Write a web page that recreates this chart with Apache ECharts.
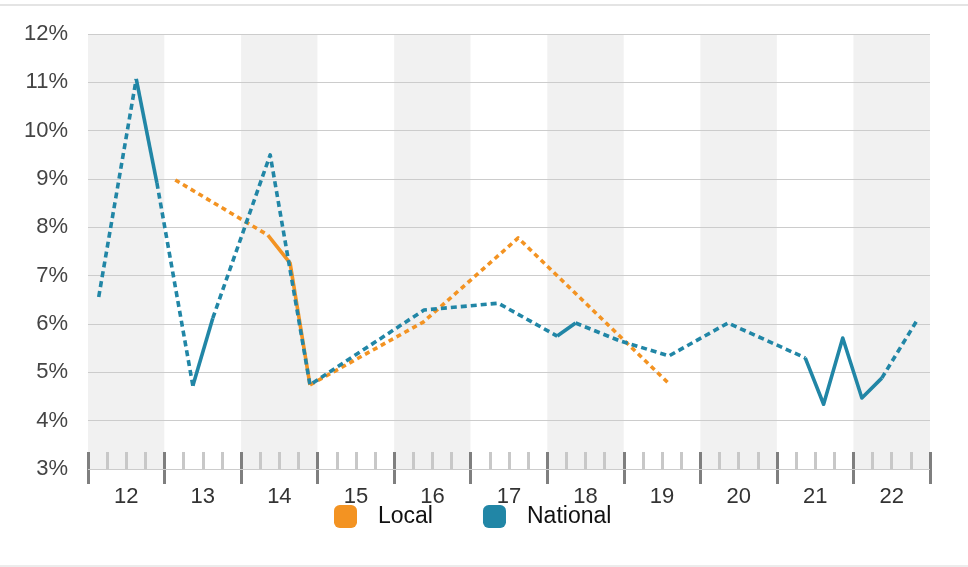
<!DOCTYPE html>
<html>
<head>
<meta charset="utf-8">
<script src="https://cdn.jsdelivr.net/npm/echarts@6/dist/echarts.min.js"></script>
<style>
html,body{margin:0;padding:0;background:#fff;}
#chart{width:968px;height:567px;}
</style>
</head>
<body>
<div id="chart"></div>
<script>
// ---- data ----
const years = ['12','13','14','15','16','17','18','19','20','21','22'];
const yTicks = [3,4,5,6,7,8,9,10,11,12];

const localX = [12.64, 13.85, 14.14, 14.40, 15.88, 17.12, 19.08];
const localY = [8.98, 7.84, 7.26, 4.74, 6.04, 7.78, 4.78];
const localSolidRanges = [[1, 3]];

const nationalX = [11.64, 12.13, 12.40, 12.87, 13.13, 13.88, 14.40, 15.89, 16.86, 17.63, 17.87, 18.45, 19.09, 19.86, 20.87, 21.11, 21.36, 21.61, 21.87, 22.34];
const nationalY = [6.56, 11.07, 8.92, 4.72, 6.12, 9.50, 4.74, 6.29, 6.43, 5.75, 6.02, 5.65, 5.34, 6.02, 5.30, 4.34, 5.71, 4.47, 4.88, 6.10];
const nationalSolidRanges = [[1, 2], [3, 4], [9, 10], [14, 18]];

// ---- build ----
const COLORS = { Local: '#F39322', National: '#2186A6' };
const FONT = 'Liberation Sans, Arial, Helvetica, sans-serif';

function segments(xs, ys, solids) {
  const out = [];
  let cur = 0;
  const last = xs.length - 1;
  const pts = (a, b) => { const d = []; for (let i = a; i <= b; i++) d.push([xs[i], ys[i]]); return d; };
  solids.forEach(([a, b]) => {
    if (a > cur) out.push({ solid: false, data: pts(cur, a) });
    out.push({ solid: true, data: pts(a, b) });
    cur = b;
  });
  if (cur < last) out.push({ solid: false, data: pts(cur, last) });
  return out;
}

function mkSeries(name, xs, ys, solids) {
  return segments(xs, ys, solids).map(s => ({
    name: name,
    type: 'line',
    xAxisIndex: 2,
    yAxisIndex: 0,
    data: s.data,
    showSymbol: false,
    symbol: 'none',
    silent: true,
    animation: false,
    color: COLORS[name],
    itemStyle: { color: COLORS[name] },
    lineStyle: {
      color: COLORS[name],
      width: 3.6,
      type: s.solid ? 'solid' : (name === 'Local' ? [5, 4] : [6, 4]),
      cap: 'butt',
      join: 'round'
    },
    z: name === 'Local' ? 3 : 4
  }));
}

const series = [].concat(
  mkSeries('Local', localX, localY, localSolidRanges),
  mkSeries('National', nationalX, nationalY, nationalSolidRanges)
);

const chart = echarts.init(document.getElementById('chart'), null, { renderer: 'canvas' });
chart.setOption({
  animation: false,
  backgroundColor: '#ffffff',
  textStyle: { fontFamily: FONT },
  grid: { left: 88, right: 38, top: 34, bottom: 98, containLabel: false },
  graphic: [
    { type: 'line', shape: { x1: 0, y1: 5, x2: 968, y2: 5 }, style: { stroke: '#e4e4e4', lineWidth: 2 } },
    { type: 'line', shape: { x1: 0, y1: 566, x2: 968, y2: 566 }, style: { stroke: '#ececec', lineWidth: 2 } }
  ],
  legend: {
    data: ['Local', 'National'],
    left: 329,
    top: 500,
    icon: 'roundRect',
    itemWidth: 23,
    itemHeight: 23,
    itemGap: 50,
    selectedMode: false,
    textStyle: { fontSize: 23, color: '#111', fontFamily: FONT, padding: [4, 0, 0, 16] }
  },
  xAxis: [
    {
      // band axis: labels, major ticks, alternating bands
      type: 'category',
      data: years,
      boundaryGap: true,
      position: 'bottom',
      offset: -17,
      z: 0,
      axisLine: { show: false },
      axisTick: { show: true, alignWithLabel: false, length: 32, lineStyle: { color: '#7f7f7f', width: 3 } },
      axisLabel: { margin: 34, fontSize: 22, color: '#333', fontFamily: FONT },
      splitLine: { show: false },
      splitArea: { show: true, areaStyle: { color: ['#f1f1f1', '#ffffff'] } }
    },
    {
      // minor ticks inside each year band
      type: 'value',
      min: 0,
      max: 11,
      interval: 1,
      position: 'bottom',
      z: 1,
      axisLine: { show: false },
      axisTick: { show: false, inside: true },
      minorTick: { show: true, splitNumber: 4, length: 17, lineStyle: { color: '#c8c8c8', width: 3 } },
      axisLabel: { show: false },
      splitLine: { show: false },
      minorSplitLine: { show: false }
    },
    {
      // hidden data axis for the lines
      type: 'value',
      min: 11.5,
      max: 22.5,
      show: false,
      splitLine: { show: false }
    }
  ],
  yAxis: [{
    type: 'value',
    min: yTicks[0],
    max: yTicks[yTicks.length - 1],
    interval: 1,
    z: 1,
    axisLine: { show: false },
    axisTick: { show: false },
    axisLabel: { formatter: '{value}%', fontSize: 22, color: '#444', margin: 20, fontFamily: FONT },
    splitLine: { show: true, lineStyle: { color: '#cccccc', width: 1 } }
  }],
  series: series
});
</script>
</body>
</html>
